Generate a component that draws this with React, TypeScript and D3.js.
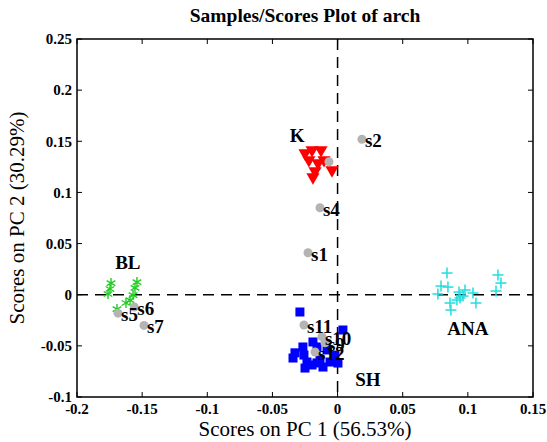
import * as d3 from "d3";
import React from "react";

// class scores (PC1, PC2)
const kScores: [number, number][] = [
  [-0.025, 0.1385], [-0.0196, 0.1415], [-0.0127, 0.1415], [-0.022, 0.1317],
  [-0.015, 0.1288], [-0.0104, 0.1317], [-0.0173, 0.1209], [-0.0189, 0.115],
  [-0.0043, 0.1219],
];
const blScores: [number, number][] = [
  [-0.1739, 0.0114], [-0.1747, 0.0056], [-0.1762, 0.0007], [-0.154, 0.0124],
  [-0.1555, 0.0066], [-0.157, -0.0003], [-0.1593, -0.0052], [-0.1624, -0.0081],
  [-0.1693, -0.014],
];
const anaScores: [number, number][] = [
  [0.084, 0.0212], [0.0794, 0.0085], [0.0847, 0.0075], [0.077, 0.0007],
  [0.0932, 0.0026], [0.0978, 0.0046], [0.1039, 0.0017], [0.094, -0.0032],
  [0.0916, -0.0052], [0.0963, -0.0013], [0.1062, -0.0081], [0.0863, -0.0081],
  [0.087, -0.015], [0.1231, 0.0193], [0.1254, 0.0114], [0.1216, 0.0036],
];
const shScores: [number, number][] = [
  [-0.0289, -0.0169], [0.0041, -0.0345], [-0.0266, -0.0511], [-0.0327, -0.0568],
  [-0.0342, -0.0619], [-0.0258, -0.059], [-0.0235, -0.0658], [-0.025, -0.0717],
  [-0.0189, -0.0462], [-0.0158, -0.0511], [-0.0158, -0.0667], [-0.0135, -0.0638],
  [-0.0112, -0.0707], [-0.0058, -0.0658], [0.0003, -0.0668], [-0.0081, -0.054],
  [-0.0196, -0.0687], [-0.002, -0.059],
];

// unknown samples
const sampleNames = ["s1", "s2", "s3", "s4", "s5", "s6", "s7", "s9", "s10", "s11", "s12"];
const sampleX = [-0.0227, 0.0187, -0.0066, -0.0135, -0.1685, -0.156, -0.1486, -0.0097, -0.012, -0.0258, -0.0173];
const sampleY = [0.041, 0.152, 0.13, 0.085, -0.018, -0.012, -0.03, -0.047, -0.041, -0.0296, -0.056];
const sampleShown = [true, true, false, true, true, true, true, true, true, true, true];

const classNames = ["K", "BL", "ANA", "SH"];
const classLabelX = [-0.031, -0.161, 0.1, 0.0233];
const classLabelY = [0.156, 0.032, -0.0325, -0.083];

const xTicks = [-0.2, -0.15, -0.1, -0.05, 0, 0.05, 0.1, 0.15];
const yTicks = [-0.1, -0.05, 0, 0.05, 0.1, 0.15, 0.2, 0.25];

export default function App() {
  const WIDTH = 547;
  const HEIGHT = 442;
  const margin = { top: 39, right: 14, bottom: 45, left: 77 };
  const innerW = WIDTH - margin.left - margin.right;
  const innerH = HEIGHT - margin.top - margin.bottom;

  const x = d3.scaleLinear().domain([-0.2, 0.15]).range([0, innerW]);
  const y = d3.scaleLinear().domain([-0.1, 0.25]).range([innerH, 0]);

  const serif = { fontFamily: "'Liberation Serif', 'DejaVu Serif', serif" };
  const tri = d3.symbol().type(d3.symbolTriangle).size(75)();
  const ast = d3.symbol().type(d3.symbolAsterisk).size(70)();

  return (
    <svg width={WIDTH} height={HEIGHT} style={{ position: "absolute", left: 0, top: 0 }}>
      <rect width={WIDTH} height={HEIGHT} fill="#fff" />
      <text x={margin.left + innerW / 2} y={22} textAnchor="middle" fontSize={19.5} fontWeight="bold" style={serif}>
        Samples/Scores Plot of arch
      </text>
      <g transform={`translate(${margin.left},${margin.top})`}>
        {/* zero lines */}
        <line x1={x(0)} x2={x(0)} y1={0} y2={innerH} stroke="#000" strokeWidth={1.5} strokeDasharray="11,7" />
        <line x1={0} x2={innerW} y1={y(0)} y2={y(0)} stroke="#000" strokeWidth={1.5} strokeDasharray="11,7" />

        {/* K */}
        {kScores.map((d, i) => (
          <path key={"k" + i} d={tri} transform={`translate(${x(d[0])},${y(d[1])}) rotate(180)`} fill="#ff0000" />
        ))}
        {/* BL */}
        {blScores.map((d, i) => (
          <path key={"b" + i} d={ast} transform={`translate(${x(d[0])},${y(d[1])})`} fill="none" stroke="#22cc22" strokeWidth={1.4} />
        ))}
        {/* ANA */}
        {anaScores.map((d, i) => (
          <g key={"a" + i} stroke="#22dddd" strokeWidth={1.5}>
            <line x1={x(d[0]) - 5.5} x2={x(d[0]) + 5.5} y1={y(d[1])} y2={y(d[1])} />
            <line x1={x(d[0])} x2={x(d[0])} y1={y(d[1]) - 5.5} y2={y(d[1]) + 5.5} />
          </g>
        ))}
        {/* SH */}
        {shScores.map((d, i) => (
          <rect key={"s" + i} x={x(d[0]) - 4.5} y={y(d[1]) - 4.5} width={9} height={9} fill="#0000ff" />
        ))}

        {/* samples */}
        {sampleNames.map((n, i) => (
          <circle key={n} cx={x(sampleX[i])} cy={y(sampleY[i])} r={4.5} fill="#b4b4b4" />
        ))}
        {sampleNames.map((n, i) =>
          sampleShown[i] ? (
            <text key={"t" + n} x={x(sampleX[i]) + 3} y={y(sampleY[i]) + 8} fontSize={19} fontWeight="bold" style={serif}>
              {n}
            </text>
          ) : null
        )}

        {classNames.map((n, i) => (
          <text key={n} x={x(classLabelX[i])} y={y(classLabelY[i])} dy="0.35em" textAnchor="middle" fontSize={19} fontWeight="bold" style={serif}>
            {n}
          </text>
        ))}

        {/* frame */}
        <rect width={innerW} height={innerH} fill="none" stroke="#000" strokeWidth={1.5} />
        {xTicks.map((t) => (
          <g key={"xt" + t}>
            <line x1={x(t)} x2={x(t)} y1={innerH} y2={innerH - 5} stroke="#000" />
            <line x1={x(t)} x2={x(t)} y1={0} y2={5} stroke="#000" />
            <text x={x(t)} y={innerH + 17} textAnchor="middle" fontSize={15} fontWeight="bold" style={serif}>
              {String(t)}
            </text>
          </g>
        ))}
        {yTicks.map((t) => (
          <g key={"yt" + t}>
            <line x1={0} x2={5} y1={y(t)} y2={y(t)} stroke="#000" />
            <line x1={innerW} x2={innerW - 5} y1={y(t)} y2={y(t)} stroke="#000" />
            <text x={-5} y={y(t)} dy="0.35em" textAnchor="end" fontSize={15} fontWeight="bold" style={serif}>
              {String(t)}
            </text>
          </g>
        ))}
      </g>
      <text x={margin.left + innerW / 2} y={436} textAnchor="middle" fontSize={21} style={serif}>
        Scores on PC 1 (56.53%)
      </text>
      <text transform={`translate(24,${margin.top + innerH / 2}) rotate(-90)`} textAnchor="middle" fontSize={21} style={serif}>
        Scores on PC 2 (30.29%)
      </text>
    </svg>
  );
}
